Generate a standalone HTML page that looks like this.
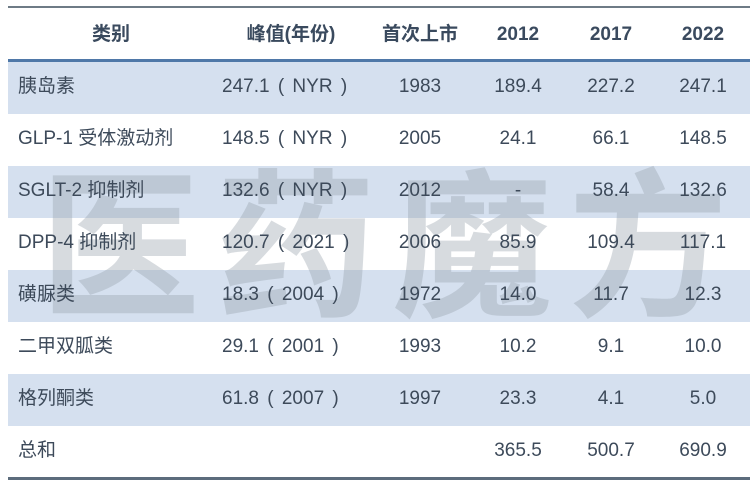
<!DOCTYPE html>
<html><head><meta charset="utf-8"><style>
body{margin:0;width:756px;height:483px;background:#fff;position:relative;overflow:hidden;font-family:"Liberation Sans","Noto Sans CJK SC",sans-serif;color:#3d4a5a}
.t{position:absolute;left:8px;top:6px;width:742px;border-top:2px solid #6e7b86}
.r{position:absolute;left:8px;width:742px;height:52px}
.b{background:#d5e0ef}
.c{position:absolute;top:0;line-height:52px;font-size:19px;white-space:nowrap;transform:translateX(-50%)}
.h .c{font-weight:bold;color:#3a4a5e;line-height:54px}
.wm{position:absolute;left:40px;top:140px;font-size:160px;letter-spacing:16px;color:rgba(150,160,172,0.38);font-family:"Noto Sans CJK SC",sans-serif;font-weight:bold;line-height:190px;white-space:nowrap}
</style></head><body>
<div class="t"></div>
<div class="r h" style="top:8px;height:52px"><div class="c" style="left:103px">类别</div><div class="c" style="left:283px">峰值(年份)</div><div class="c" style="left:412px">首次上市</div><div class="c" style="left:510px">2012</div><div class="c" style="left:603px">2017</div><div class="c" style="left:695px">2022</div></div>
<div style="position:absolute;left:8px;top:59px;width:742px;height:3px;background:#4f78a8"></div>
<div class="r b" style="top:62px"></div>
<div class="r" style="top:114px"></div>
<div class="r b" style="top:166px"></div>
<div class="r" style="top:218px"></div>
<div class="r b" style="top:270px"></div>
<div class="r" style="top:322px"></div>
<div class="r b" style="top:374px"></div>
<div class="r" style="top:426px"></div>
<div class="wm">医药魔方</div>
<div id="rows"></div>
<script>
var d=[["胰岛素","247.1 ( NYR )","1983","189.4","227.2","247.1"],["GLP-1 受体激动剂","148.5 ( NYR )","2005","24.1","66.1","148.5"],["SGLT-2 抑制剂","132.6 ( NYR )","2012","-","58.4","132.6"],["DPP-4 抑制剂","120.7 ( 2021 )","2006","85.9","109.4","117.1"],["磺脲类","18.3 ( 2004 )","1972","14.0","11.7","12.3"],["二甲双胍类","29.1 ( 2001 )","1993","10.2","9.1","10.0"],["格列酮类","61.8 ( 2007 )","1997","23.3","4.1","5.0"],["总和","","","365.5","500.7","690.9"]];
var x=[283,420,518,611,703],h="";
d.forEach(function(r,i){var y=61+i*52;h+='<div class="r" style="top:'+y+'px"><div class="c" style="left:10px;transform:none">'+r[0]+'</div><div class="c" style="left:214px;transform:none;word-spacing:3px">'+r[1]+'</div>';for(var j=2;j<6;j++)h+='<div class="c" style="left:'+(x[j-1]-8)+'px">'+r[j]+'</div>';h+='</div>';});
document.getElementById('rows').innerHTML=h;
</script>
<div style="position:absolute;left:8px;top:477px;width:742px;height:3px;background:#5c6c7c"></div>
</body></html>
